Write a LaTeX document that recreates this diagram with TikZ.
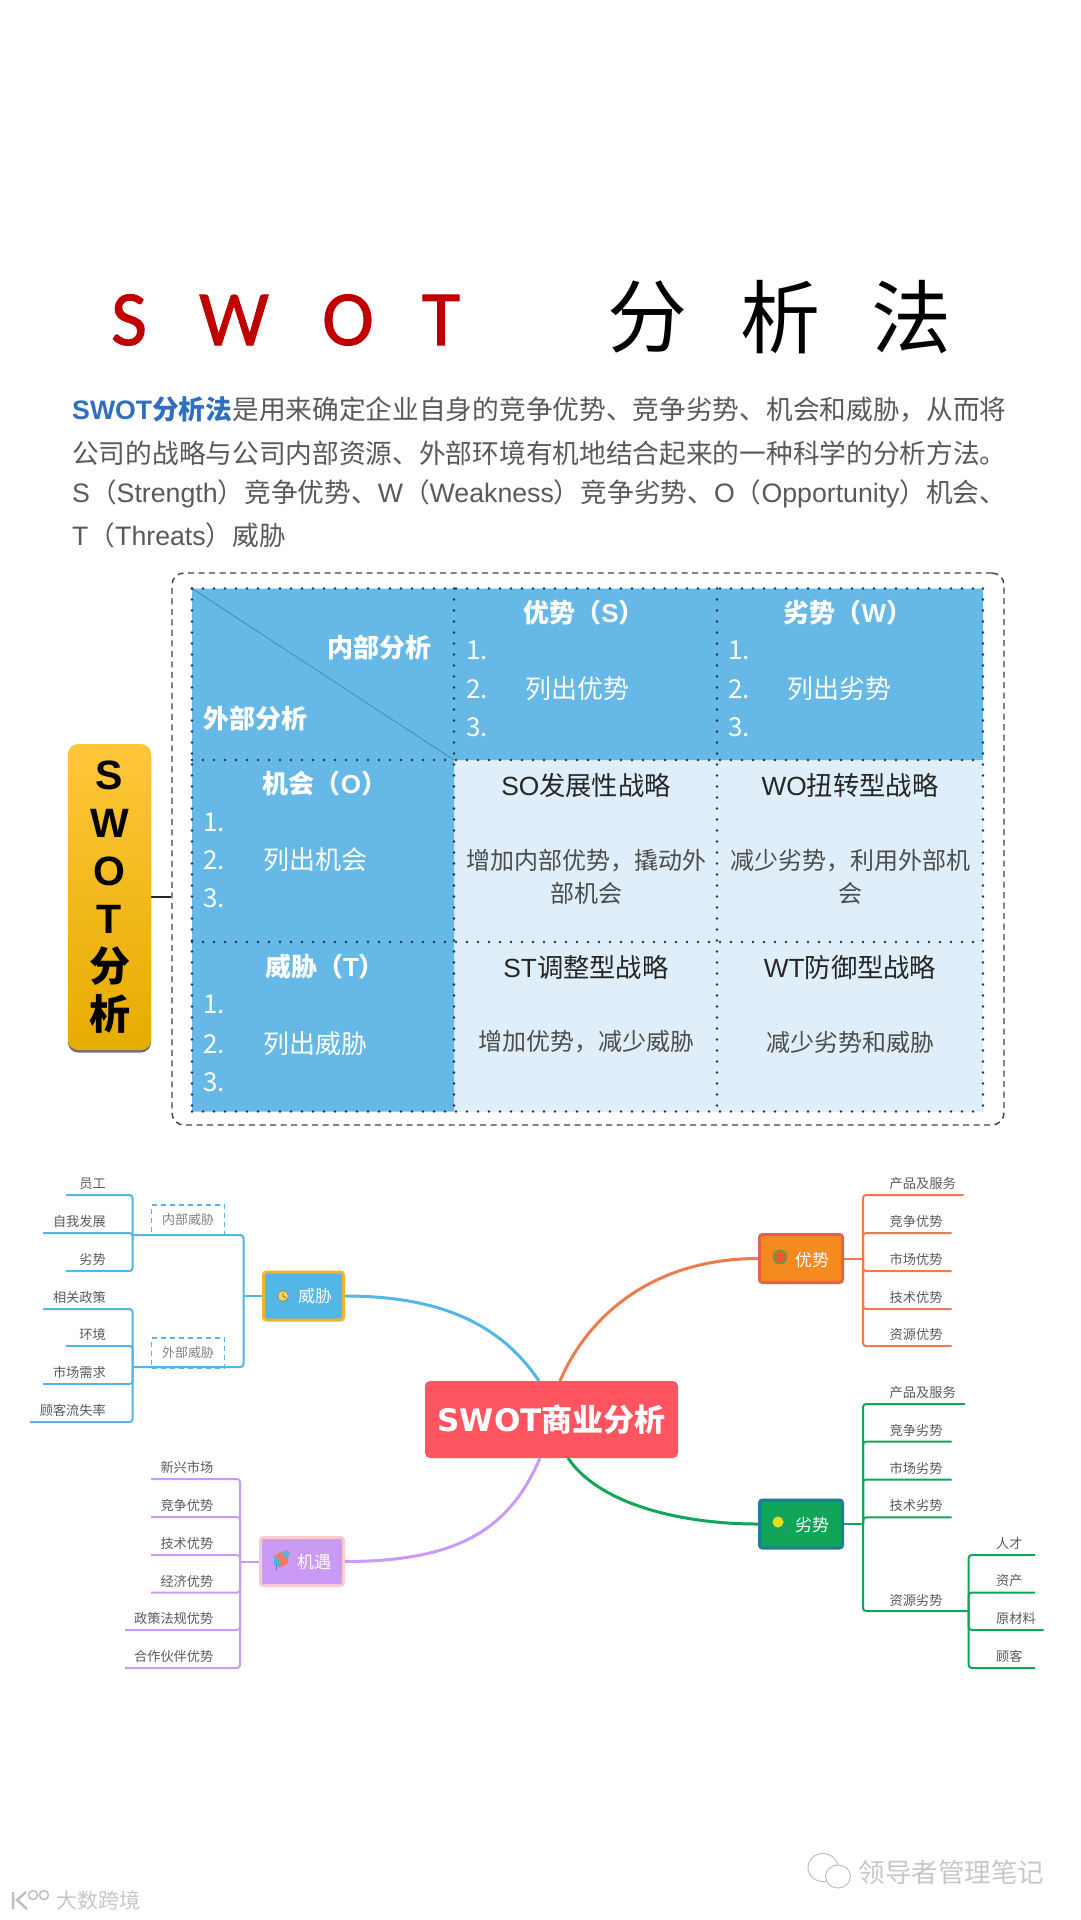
\documentclass[tikz,border=0pt]{standalone}
\usepackage{fontspec}
\setmainfont{Noto Sans CJK SC}
\newfontfamily\arial{Liberation Sans}
\newfontfamily\dejavu{DejaVu Sans}
\newfontfamily\carlito[FakeBold=1.3]{Carlito}
\usetikzlibrary{calc, shadows}
\definecolor{cred}{HTML}{C00000}
\definecolor{cblue}{HTML}{2E6FC0}
\definecolor{cgrey}{HTML}{595959}
\definecolor{chead}{HTML}{66B8E6}
\definecolor{ccell}{HTML}{DFEEF9}
\definecolor{cdot}{HTML}{1D3550}
\definecolor{cmain}{HTML}{FF5560}
\definecolor{cthreat}{HTML}{52B6E6}
\definecolor{cchance}{HTML}{CB9AF7}
\definecolor{cstrong}{HTML}{EE7B4B}
\definecolor{cweak}{HTML}{10A558}
\definecolor{ctop}{HTML}{FFC63A}
\definecolor{cmid}{HTML}{FFC800}
\definecolor{cbot}{HTML}{E6AC00}
\definecolor{cthreatline}{HTML}{F0B429}
\definecolor{cchanceline}{HTML}{FFC9D2}
\definecolor{corange}{HTML}{F58A1F}
\definecolor{cstrongline}{HTML}{E8604C}
\definecolor{cweakline}{HTML}{1C7C99}
\definecolor{cyellow}{HTML}{F2D75C}
\definecolor{ccoral}{HTML}{F07A5A}
\definecolor{csky}{HTML}{4DB6E8}
\definecolor{cleaf}{HTML}{5E9E4A}
\definecolor{cfire}{HTML}{F0582F}
\definecolor{chandle}{HTML}{4F7FA8}
\definecolor{clens}{HTML}{E6DC22}
\tikzset{
  big/.style={inner sep=0pt, font=\fontsize{#1}{#1}\selectfont},
  para/.style={inner sep=0pt, anchor=west, text=cgrey, font=\fontsize{26.7}{30}\selectfont},
  head/.style={inner sep=0pt, text=white, font=\fontsize{26}{30}\selectfont\bfseries},
  body/.style={inner sep=0pt, text=white, anchor=west, font=\fontsize{26}{30}\selectfont},
  plan/.style={inner sep=0pt, text=black!85, align=center, font=\fontsize{26.3}{30}\selectfont},
  how/.style={inner sep=0pt, text=black!70, align=center, font=\fontsize{24}{33}\selectfont},
  griddot/.style={draw=cdot, line width=2.8pt, line cap=round, dash pattern=on 0pt off 11pt},
  branch/.style={fill=#1, line width=3pt, rounded corners=3pt, minimum width=83pt, minimum height=48pt, inner sep=0pt},
  tag/.style={inner sep=0pt, text=white, font=\fontsize{17}{20}\selectfont},
  leaf/.style={inner sep=0pt, text=cgrey, font=\fontsize{13.2}{16}\selectfont},
  twig/.style={draw=#1, line width=2pt, rounded corners=3pt},
  curve/.style={draw=#1, line width=3pt},
  wmark/.style={inner sep=0pt, text=black!22, font=\fontsize{#1}{#1}\selectfont},
}
\begin{document}
\begin{tikzpicture}[x=1pt, y=-1pt]
  \useasboundingbox (0,0) rectangle (1080,1920);
  % the title
  \foreach \i/\t/\x in {1/S/129,2/W/234,3/O/348,4/T/441} {\node[big=78, text=cred] (ti\i) at (\x,320) {\carlito\t};}
  \foreach \i/\t/\x in {5/分/647,6/析/780,7/法/911} {\node[big=80, text=black] (ti\i) at (\x,317) {\t};}
  \node[para] (p1) at (72,410) {\textcolor{cblue}{\bfseries{\arial SWOT}分析法}是用来确定企业自身的竞争优势、竞争劣势、机会和威胁，从而将};
  \node[para] (p2) at (72,453) {公司的战略与公司内部资源、外部环境有机地结合起来的一种科学的分析方法。};
  \node[para] (p3) at (72,494) {{\arial S}（{\arial Strength}）竞争优势、{\arial W}（{\arial Weakness}）竞争劣势、{\arial O}（{\arial Opportunity}）机会、};
  \node[para] (p4) at (72,535) {{\arial T}（{\arial Threats}）威胁};
  % the matrix
  \node[draw=black!75, line width=1.4pt, dash pattern=on 6pt off 4.5pt, rounded corners=12pt, minimum width=832pt, minimum height=552pt, inner sep=0pt] (frame) at (588,849) {};
  \fill[ccell] (454,760) rectangle (983,1111.5);
  \fill[chead] (192,588.5) rectangle (983,760) (192,760) rectangle (454,1111.5);
  \draw[chead!75!black, line width=0.8pt] (192,588.5) -- (454,760);
  \foreach \y in {588.5,760,942,1111.5} {\draw[griddot] (192,\y) -- (983,\y);}
  \foreach \x in {192,454,717,983} {\draw[griddot] (\x,588.5) -- (\x,1111.5);}
  \node[head] (inner) at (379,648) {内部分析};
  \node[head] (outer) at (255,719) {外部分析};
  \node[head] (hs) at (584,613) {优势（{\arial S}）};
  \node[head] (hw) at (848,613) {劣势（{\arial W}）};
  \node[head] (ho) at (325,784) {机会（{\arial O}）};
  \node[head] (ht) at (325,967) {威胁（{\arial T}）};
  \foreach \n/\x/\a/\b/\c/\xt/\t in {s/466/650/689/727/525/列出优势,w/728/650/689/727/787/列出劣势,o/203/822/860/898/263/列出机会,t/203/1004/1044/1082/263/列出威胁} {
    \node[body] (\n1) at (\x,\a) {1.};
    \node[body] (\n2) at (\x,\b) {2.};
    \node[body] (\n3) at (\x,\c) {3.};
    \node[body] (\n4) at (\xt,\b) {\t};
  }
  \node[plan] (so) at (586,785) {{\arial SO}发展性战略};
  \node[plan] (wo) at (850,785) {{\arial WO}扭转型战略};
  \node[plan] (st) at (586,967) {{\arial ST}调整型战略};
  \node[plan] (wt) at (850,967) {{\arial WT}防御型战略};
  \node[how] (so2) at (586,877) {增加内部优势，撬动外\\部机会};
  \node[how] (wo2) at (850,877) {减少劣势，利用外部机\\会};
  \node[how] (st2) at (586,1042) {增加优势，减少威胁};
  \node[how] (wt2) at (850,1042) {减少劣势和威胁};
  \node[rounded corners=10pt, top color=ctop, middle color=cmid, bottom color=cbot, minimum width=83pt, minimum height=306pt, inner sep=0pt, align=center, drop shadow={shadow xshift=0pt, shadow yshift=-2.5pt, opacity=0.8, fill=black!70}, font=\fontsize{41}{48}\selectfont\bfseries] (swot) at (109.5,897) {{\arial S}\\{\arial W}\\{\arial O}\\{\arial T}\\分\\析};
  \draw[black!85, line width=1.6pt] (swot.east) -- (swot.east -| frame.west);
  % the mind map
  \node[rounded corners=5pt, fill=cmain, minimum width=253pt, minimum height=77pt, inner sep=0pt, text=white, font=\fontsize{31}{36}\selectfont\bfseries] (main) at (551.5,1419.5) {{\dejavu\bfseries SWOT}商业分析};
  \node[branch=cthreat, draw=cthreatline, minimum width=80pt] (threat) at (303.5,1296) {};
  \node[branch=cchance, draw=cchanceline] (chance) at (302,1561.5) {};
  \node[branch=corange, draw=cstrongline] (strong) at (801,1258.5) {};
  \node[branch=cweak, draw=cweakline] (weak) at (801,1524) {};
  \node[tag] (tthreat) at (315,1296) {威胁};
  \node[tag] (tchance) at (314,1562) {机遇};
  \node[tag] (tstrong) at (812,1260) {优势};
  \node[tag] (tweak) at (812,1525) {劣势};
  \coordinate (m1) at (539,1381);
  \coordinate (m2) at (540,1458);
  \coordinate (m3) at (560,1381);
  \coordinate (m4) at (568,1458);
  \draw[curve=cthreat] (threat.east) .. controls +(90,0) and +(-40,-60) .. (m1);
  \draw[curve=cchance] (chance.east) .. controls +(115,0) and +(-30,70) .. (m2);
  \draw[curve=cstrong] (strong.west) .. controls +(-100,0) and +(30,-70) .. (m3);
  \draw[curve=cweak] (weak.west) .. controls +(-80,0) and +(30,45) .. (m4);
  % threat side
  \coordinate (jt) at (243.5,1296);
  \coordinate (k1) at (132.6,1235);
  \coordinate (k2) at (132.6,1367);
  \draw[twig=cthreat] (threat.west) -- (jt);
  \draw[twig=cthreat] (k1) -| (jt);
  \draw[twig=cthreat] (k2) -| (jt);
  \foreach \i/\t/\y in {1/内部威胁/1205,2/外部威胁/1338} {
    \node[draw=cthreat, line width=1.6pt, dash pattern=on 5pt off 4pt, minimum width=73pt, minimum height=30pt, inner sep=0pt, text=black!50, font=\fontsize{13}{16}\selectfont] (g\i) at (188,\y+15) {\t};
  }
  \foreach \i/\t/\x/\y/\k in {1/员工/66/1195/k1,2/自我发展/43/1233/k1,3/劣势/66/1271/k1,4/相关政策/43/1309/k2,5/环境/66/1346/k2,6/市场需求/43/1384/k2,7/顾客流失率/30/1422/k2} {
    \node[leaf, anchor=east] (a\i) at (106,\y-11.5) {\t};
    \coordinate (ca\i) at (\x,\y);
    \draw[twig=cthreat] (ca\i) -| (\k);
  }
  % chance side
  \coordinate (jc) at (240,1561.5);
  \draw[twig=cchance] (chance.west) -- (jc);
  \foreach \i/\t/\x/\y in {1/新兴市场/151/1479,2/竞争优势/151/1517,3/技术优势/151/1555,4/经济优势/151/1592.5,5/政策法规优势/125/1630,6/合作伙伴优势/125/1668} {
    \node[leaf, anchor=east] (b\i) at (213.5,\y-11.5) {\t};
    \coordinate (cb\i) at (\x,\y);
    \draw[twig=cchance] (cb\i) -| (jc);
  }
  % strong side
  \coordinate (js) at (863,1258.5);
  \draw[twig=cstrong] (strong.east) -- (js);
  \foreach \i/\t/\x/\y in {1/产品及服务/963.6/1195,2/竞争优势/951.5/1233,3/市场优势/951.5/1271,4/技术优势/951.5/1309,5/资源优势/951.5/1346} {
    \node[leaf, anchor=west] (c\i) at (889.5,\y-11.5) {\t};
    \coordinate (cc\i) at (\x,\y);
    \draw[twig=cstrong] (cc\i) -| (js);
  }
  % weak side
  \coordinate (jw) at (863,1524);
  \coordinate (jr) at (968.7,1611);
  \draw[twig=cweak] (weak.east) -- (jw);
  \foreach \i/\t/\x/\y in {1/产品及服务/965/1404,2/竞争劣势/951.5/1441.7,3/市场劣势/951.5/1479.5,4/技术劣势/951.5/1517.4} {
    \node[leaf, anchor=west] (d\i) at (889.5,\y-11.5) {\t};
    \coordinate (cd\i) at (\x,\y);
    \draw[twig=cweak] (cd\i) -| (jw);
  }
  \node[leaf, anchor=west] (d5) at (889.5,1600) {资源劣势};
  \draw[twig=cweak] (jr) -| (jw);
  \foreach \i/\t/\x/\y in {1/人才/1035/1555,2/资产/1035/1592.5,3/原材料/1043.5/1630,4/顾客/1035/1668} {
    \node[leaf, anchor=west] (e\i) at (996,\y-11.5) {\t};
    \coordinate (ce\i) at (\x,\y);
    \draw[twig=cweak] (ce\i) -| (jr);
  }
  % icons
  \fill[cyellow, draw=black!45, line width=1pt] (283,1296) circle (5.5);
  \draw[black!60, line width=0.8pt] (283,1293) -- (283,1296) -- (286,1298);
  \fill[ccoral] (274,1556) -- (281,1552) -- (288,1556) -- (288,1563) -- (281,1567) -- (274,1563) -- cycle;
  \fill[csky] (274,1556) -- (280,1560) -- (280,1568) -- (274,1564) -- cycle;
  \fill[csky, draw=black!40, line width=0.5pt] (286,1554) circle (3.5);
  \draw[chandle, line width=0.8pt] (276,1564) -- (276,1570);
  \fill[cfire, draw=cleaf, line width=1.8pt] (780,1257) circle (6.5);
  \draw[chandle, line width=1.2pt] (783,1527) -- (788,1532);
  \fill[clens] (778,1522) circle (5.5);
  % the marks
  \node[wmark=26.5] (lead) at (951.5,1872) {领导者管理笔记};
  \node[wmark=21] (data) at (98.5,1900) {大数跨境};
  \draw[black!25, line width=1pt] (823,1867.5) ellipse (15 and 14);
  \draw[black!25, line width=1pt, fill=white] (838,1876.5) ellipse (12.5 and 11.5);
  \draw[black!25, line width=2.5pt] (13,1892) -- (13,1909) (26,1892) -- (17,1900) -- (27,1909);
  \draw[black!25, line width=1.5pt] (33,1895) circle (4.5) (44,1895) circle (4.5);
\end{tikzpicture}
\end{document}
